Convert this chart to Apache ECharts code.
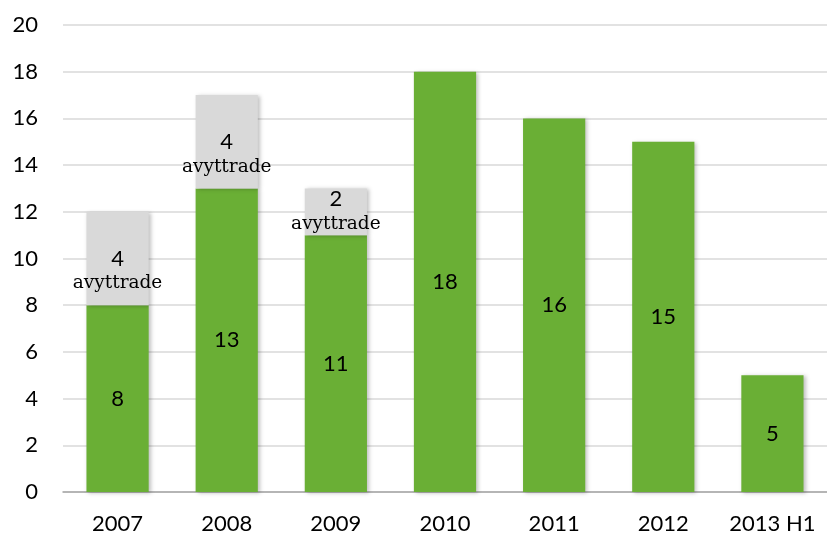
<!DOCTYPE html>
<html>
<head>
<meta charset="utf-8">
<script src="https://cdn.jsdelivr.net/npm/echarts@6/dist/echarts.min.js"></script>
<style>
  html, body { margin: 0; padding: 0; background: #fff; }
  #chart { width: 827px; height: 535px; }
</style>
</head>
<body>
<div id="chart"></div>
<script>
const categories = ['2007', '2008', '2009', '2010', '2011', '2012', '2013 H1'];
const kept = [8, 13, 11, 18, 16, 15, 5];
const divested = [4, 4, 2, null, null, null, null];
const yTicks = { min: 0, max: 20, interval: 2 };

const chart = echarts.init(document.getElementById('chart'));

const shadow = {
    shadowBlur: 4,
    shadowColor: 'rgba(0,0,0,0.25)',
    shadowOffsetX: 2,
    shadowOffsetY: 1
};

// the short grey segment (2009) has its label pushed up, as in the original
const divestedItems = divested.map((v, i) =>
    v === 2 ? { value: v, label: { offset: [0, -1] } } : v);

chart.setOption({
    animation: false,
    grid: { left: 63, right: -6, top: 25, bottom: 43 },
    xAxis: {
        type: 'category',
        data: categories,
        axisTick: { show: false },
        axisLine: { lineStyle: { color: '#a6a6a6', width: 1.5 } },
        axisLabel: {
            color: '#000', fontFamily: 'Lato', fontSize: 22, margin: 21,
            interval: 0, hideOverlap: false
        }
    },
    yAxis: {
        type: 'value',
        min: yTicks.min,
        max: yTicks.max,
        interval: yTicks.interval,
        axisLine: { show: false },
        axisTick: { show: false },
        splitLine: { lineStyle: { color: '#d9d9d9', width: 1.5 } },
        axisLabel: { color: '#000', fontFamily: 'Lato', fontSize: 22, margin: 25 }
    },
    series: [
        {
            type: 'bar',
            stack: 'total',
            data: kept,
            barWidth: '57%',
            itemStyle: Object.assign({ color: '#6aaf35' }, shadow),
            label: {
                show: true,
                position: 'inside',
                color: '#000',
                fontFamily: 'Lato',
                fontSize: 22
            }
        },
        {
            type: 'bar',
            stack: 'total',
            data: divestedItems,
            barWidth: '57%',
            itemStyle: Object.assign({ color: '#d9d9d9' }, shadow),
            label: {
                show: true,
                position: 'inside',
                offset: [0, 12],
                formatter: p => '{n|' + p.value + '}\n{t|avyttrade}',
                rich: {
                    n: { color: '#000', fontFamily: 'Lato', fontSize: 22, lineHeight: 26 },
                    t: { color: '#000', fontFamily: 'DejaVu Serif', fontSize: 18.5, lineHeight: 24 }
                }
            }
        }
    ]
});
</script>
</body>
</html>
